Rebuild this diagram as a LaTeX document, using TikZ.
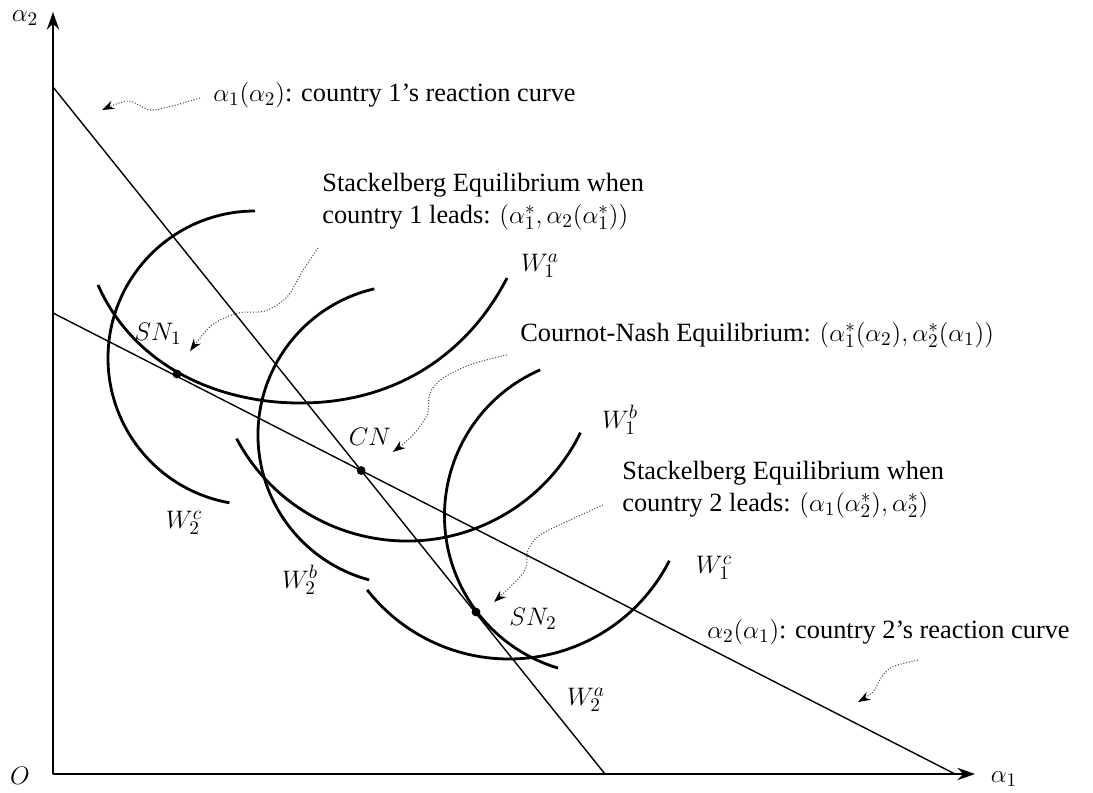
\documentclass[tikz,border=0pt]{standalone}
\usepackage{fontspec}
\setmainfont{Liberation Serif}
\usetikzlibrary{arrows.meta}

\tikzset{
  axis/.style={line width=1.2pt,-{Stealth[length=10pt,width=7pt]}},
  reaction/.style={line width=0.8pt},
  welfare/.style={line width=1.6pt},
  pointer/.style={densely dotted,gray!60!black,line width=0.6pt,-{Stealth[length=7pt,width=5pt,black]}},
  eqdot/.style={circle,fill,inner sep=0pt,minimum size=5pt},
  note/.style={anchor=west,inner sep=0pt},
}

\begin{document}
\begin{tikzpicture}[x=0.02cm,y=-0.02cm,font=\fontsize{15}{18}\selectfont]
\useasboundingbox (0,0) rectangle (1093,792);

% axes
\coordinate (O) at (53,774);
\coordinate (ytip) at (53,12);
\coordinate (xtip) at (975,774);
\draw[axis] (O) -- (ytip);
\draw[axis] (O) -- (xtip);
\node (orig) at (20,776) {\(O\)};
\node (a2) at (25,18) {\(\alpha_2\)};
\node (a1) at (1004,779) {\(\alpha_1\)};

% reaction curves
\coordinate (r1top) at (53,87);
\coordinate (r1bot) at (605,774);
\coordinate (r2top) at (53,313);
\coordinate (r2bot) at (955,774);
\draw[reaction] (r1top) -- (r1bot);
\draw[reaction] (r2top) -- (r2bot);

% welfare contours
\coordinate (cW2c) at (255,358);
\coordinate (cW2b) at (408,435);
\coordinate (cW1b) at (407,348);
\coordinate (cW2a) at (603.5,515.7);
\coordinate (cW1c) at (509,479);
\draw[welfare] (98,285) .. controls (135,368) and (220,403) .. (300,403)
                        .. controls (400,403) and (470,350) .. (507,278);
\draw[welfare] (cW2c) ++(270:147) arc[start angle=270,end angle=100,radius=147];
\draw[welfare] (cW2b) ++(257:150) arc[start angle=257,end angle=105,radius=150];
\draw[welfare] (cW1b) ++(152:193) arc[start angle=152,end angle=26,radius=193];
\draw[welfare] (cW2a) ++(246.5:159) arc[start angle=246.5,end angle=106.6,radius=159];
\draw[welfare] (cW1c) ++(142:180) arc[start angle=142,end angle=27,radius=180];

% equilibria
\node[eqdot] (SN1) at (177,374) {};
\node[eqdot] (CN) at (intersection of r1top--r1bot and r2top--r2bot) {};
\node[eqdot] (SN2) at (476,612) {};
\node (lSN1) at (158,334) {\(SN_1\)};
\node (lCN) at (370,437) {\(CN\)};
\node (lSN2) at (533,619) {\(SN_2\)};
\node (lW1a) at (540,266) {\(W_1^a\)};
\node (lW1b) at (620,420) {\(W_1^b\)};
\node (lW1c) at (714,568) {\(W_1^c\)};
\node (lW2a) at (586,700) {\(W_2^a\)};
\node (lW2b) at (300,580) {\(W_2^b\)};
\node (lW2c) at (184,523) {\(W_2^c\)};

% notes
\node[note] (rc1) at (213,95) {\(\alpha_1(\alpha_2)\): country 1's reaction curve};
\node[note] (se1a) at (322,185) {Stackelberg Equilibrium when};
\node[note] (se1b) at (322,217) {country 1 leads: \((\alpha_1^*,\alpha_2(\alpha_1^*))\)};
\node[note] (cnn) at (520,335) {Cournot-Nash Equilibrium: \((\alpha_1^*(\alpha_2),\alpha_2^*(\alpha_1))\)};
\node[note] (se2a) at (622,473) {Stackelberg Equilibrium when};
\node[note] (se2b) at (622,505) {country 2 leads: \((\alpha_1(\alpha_2^*),\alpha_2^*)\)};
\node[note] (rc2) at (707,632) {\(\alpha_2(\alpha_1)\): country 2's reaction curve};

% pointers
\coordinate (pA) at (200,98);
\coordinate (hA) at (102,110);
\coordinate (pB) at (318,248);
\coordinate (hB) at (190,351);
\coordinate (pC) at (507,355);
\coordinate (hC) at (393,452);
\coordinate (pD) at (603,505);
\coordinate (hD) at (494,602);
\coordinate (pE) at (918,660);
\coordinate (hE) at (858,702);
\draw[pointer] plot[smooth] coordinates {(pA) (172,106) (150,110) (128,101) (hA)};
\draw[pointer] plot[smooth] coordinates {(pB) (302,272) (287,297) (265,311) (238,313) (212,325) (hB)};
\draw[pointer] plot[smooth] coordinates {(pC) (472,364) (443,378) (430,393) (427,415) (412,436) (hC)};
\draw[pointer] plot[smooth] coordinates {(pD) (570,520) (540,535) (528,550) (524,572) (hD)};
\draw[pointer] plot[smooth] coordinates {(pE) (892,667) (881,678) (873,692) (hE)};
\end{tikzpicture}
\end{document}
